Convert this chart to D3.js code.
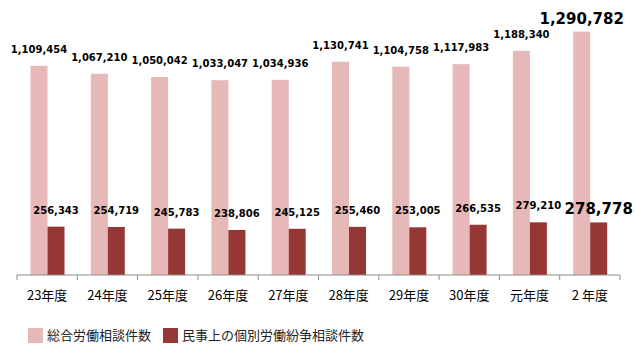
<!DOCTYPE html>
<html>
<head>
<meta charset="utf-8">
<script src="https://cdn.jsdelivr.net/npm/d3@7"></script>
<style>
  body { margin: 0; background: #fff; }
  svg { display: block; }
  .num { font-family: "DejaVu Sans", Verdana, sans-serif; font-weight: bold; fill: #000; }
  .axis text { font-family: "Noto Sans CJK JP", sans-serif; font-size: 13px; fill: #000; }
  .axis path, .axis line { stroke: #8c8c8c; }
  .legend text { font-family: "Noto Sans CJK JP", sans-serif; font-size: 13px; fill: #222; }
</style>
</head>
<body>
<svg width="635" height="351"></svg>
<script>
// fiscal years
var years = ['23年度', '24年度', '25年度', '26年度', '27年度', '28年度', '29年度', '30年度', '元年度', '2 年度'];
// 総合労働相談件数
var totalConsult = [1109454, 1067210, 1050042, 1033047, 1034936, 1130741, 1104758, 1117983, 1188340, 1290782];
// 民事上の個別労働紛争相談件数
var civilDispute = [256343, 254719, 245783, 238806, 245125, 255460, 253005, 266535, 279210, 278778];
var seriesNames = ['総合労働相談件数', '民事上の個別労働紛争相談件数'];
var seriesColors = ['#e6b8b7', '#953735'];

var svg = d3.select('svg');

var rows = years.map(function (y, i) {
    return { year: y, vals: [totalConsult[i], civilDispute[i]], last: i === years.length - 1 };
});

var x0 = d3.scaleBand().domain(years).range([17, 620]).padding(0);
var x1 = d3.scaleBand().domain([0, 1]).range([13.5, 47.5]).padding(0);
var y = d3.scaleLinear().domain([0, 1400000]).range([275, 11]);

var groups = svg.selectAll('.year').data(rows).enter()
    .append('g')
    .attr('class', 'year')
    .attr('transform', d => 'translate(' + x0(d.year) + ',0)');

groups.selectAll('rect')
    .data(d => d.vals.map((v, k) => ({ v: v, k: k, last: d.last })))
    .enter()
    .append('rect')
    .attr('x', d => x1(d.k))
    .attr('width', x1.bandwidth())
    .attr('y', d => y(d.v))
    .attr('height', d => y(0) - y(d.v))
    .attr('fill', d => seriesColors[d.k]);

groups.selectAll('text.num')
    .data(d => d.vals.map((v, k) => ({ v: v, k: k, last: d.last })))
    .enter()
    .append('text')
    .attr('class', 'num')
    .attr('text-anchor', 'middle')
    .attr('x', d => x1(d.k) + x1.bandwidth() / 2)
    .attr('y', d => y(d.v) - (d.last ? 8 : 13))
    .style('font-size', d => d.last ? '15px' : '10px')
    .text(d => d3.format(',')(d.v));

var xAxis = d3.axisBottom(x0).tickSize(5).tickSizeOuter(5).tickPadding(11);
var axisG = svg.append('g')
    .attr('class', 'axis')
    .attr('transform', 'translate(0,275)')
    .call(xAxis);
axisG.selectAll('.tick line').remove();
axisG.selectAll('.edge')
    .data(d3.range(years.length + 1))
    .enter()
    .append('line')
    .attr('x1', i => 17 + i * x0.step())
    .attr('x2', i => 17 + i * x0.step())
    .attr('y1', 0)
    .attr('y2', 5);
axisG.select('.domain').attr('d', 'M17,0H620');

var legend = svg.append('g').attr('class', 'legend');
var legendX = [28, 163];
seriesNames.forEach(function (name, k) {
    legend.append('rect')
        .attr('x', legendX[k])
        .attr('y', 328)
        .attr('width', 15)
        .attr('height', 15)
        .attr('fill', seriesColors[k]);
    legend.append('text')
        .attr('x', legendX[k] + 19)
        .attr('y', 340)
        .text(name);
});
</script>
</body>
</html>
